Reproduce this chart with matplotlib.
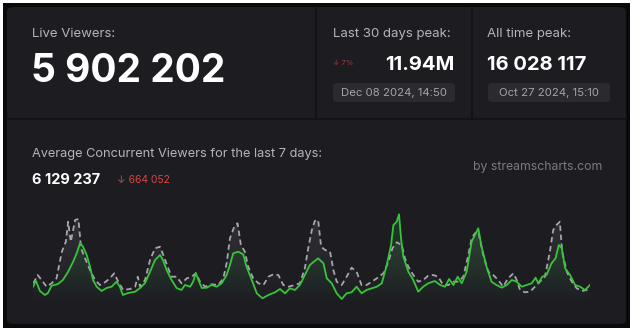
import numpy as np
import matplotlib
matplotlib.use("Agg")
import matplotlib.pyplot as plt
from matplotlib.patches import FancyBboxPatch, Rectangle, Polygon

# viewer stats shown in the header blocks
live_viewers = "5 902 202"
peak_30d = "11.94M"
peak_30d_change = "\u2193 7%"
peak_30d_date = "Dec 08 2024, 14:50"
peak_all = "16 028 117"
peak_all_date = "Oct 27 2024, 15:10"
avg_7d = "6 129 237"
avg_7d_change = "\u2193 664 052"

# last 7 days, hours from start, viewers in millions
cur_hours = [0.0, 0.9, 2.1, 3.6, 4.5, 5.6, 7.5, 9.0, 10.6, 12.1, 13.2, 14.2, 15.1, 16.2,
             17.2, 18.1, 19.2, 20.7, 22.2, 23.7, 25.2, 26.2, 27.1, 28.7, 30.8, 32.3, 33.8,
             35.3, 36.8, 38.3, 39.2, 40.3, 41.8, 43.3, 44.8, 45.8, 47.4, 48.3, 49.1, 49.9,
             50.9, 52.4, 53.9, 55.4, 56.9, 58.4, 59.4, 60.4, 61.9, 63.4, 64.4, 66.0, 67.5,
             69.2, 71.0, 73.0, 74.5, 76.0, 77.5, 79.0, 80.5, 82.0, 83.5, 84.5, 86.0, 87.6,
             88.6, 90.1, 91.6, 93.1, 94.6, 96.1, 97.6, 99.1, 100.6, 102.2, 103.7, 105.2,
             106.7, 108.0, 108.7, 109.7, 110.4, 111.0, 111.7, 113.2, 114.7, 116.2, 117.7,
             119.2, 121.2, 122.8, 124.3, 125.5, 126.8, 128.1, 129.3, 130.8, 132.3, 133.3,
             134.3, 135.3, 136.8, 138.3, 139.8, 141.4, 142.9, 144.4, 145.9, 147.4, 148.9,
             150.4, 151.6, 152.4, 153.6, 154.9, 156.4, 157.6, 158.6, 159.5, 160.5, 162.0,
             163.5, 165.0, 166.5, 168.0]
cur_viewers = [4.67, 5.24, 4.24, 3.84, 4.04, 4.77, 4.94, 5.34, 6.17, 7.17, 8.04, 9.04, 8.67, 7.84,
               6.67, 5.34, 4.67, 4.24, 4.54, 4.67, 5.17, 4.67, 3.84, 4.04, 4.17, 4.54, 5.04,
               6.17, 7.34, 7.84, 7.34, 6.34, 5.34, 4.54, 4.34, 4.84, 4.67, 5.17, 6.04, 5.34,
               4.54, 4.57, 4.84, 4.67, 5.01, 5.84, 6.84, 8.01, 8.17, 7.91, 6.67, 5.34, 4.01,
               3.51, 3.84, 4.11, 4.44, 4.01, 4.51, 4.34, 4.84, 5.84, 6.84, 7.11, 7.51, 7.01,
               5.51, 5.01, 4.01, 3.44, 4.01, 4.11, 4.67, 4.01, 4.34, 4.51, 4.67, 5.01,
               6.84, 8.84, 10.84, 11.17, 11.91, 9.51, 7.67, 6.17, 5.34, 4.17, 4.67,
               5.01, 5.24, 4.84, 4.67, 5.44, 4.84, 5.67, 5.01, 6.17, 9.17, 9.84,
               10.51, 8.67, 6.67, 5.17, 4.84, 4.57, 4.84, 5.34, 5.17, 4.67, 4.84,
               5.01, 5.57, 5.01, 5.67, 5.84, 7.01, 7.51, 8.84, 8.51, 6.51, 5.84,
               4.84, 4.67, 4.34, 4.84]

# previous 7 days for comparison
prev_hours = [0.1, 1.4, 2.6, 4.1, 5.6, 7.1, 8.7, 9.9, 10.6, 11.4, 12.7, 13.7, 14.5, 15.7, 17.2,
              18.7, 20.2, 21.7, 23.2, 24.5, 25.7, 27.2, 29.3, 30.8, 31.6, 32.3, 33.8, 35.3,
              36.8, 38.3, 39.3, 40.6, 41.8, 43.3, 44.8, 46.4, 47.9, 49.1, 50.4, 51.9, 53.9,
              55.9, 57.4, 58.4, 59.4, 60.7, 61.7, 62.7, 63.9, 64.9, 66.4, 68.0, 69.5, 71.0,
              72.5, 74.0, 75.5, 77.0, 79.0, 80.5, 82.0, 83.0, 84.1, 85.0, 86.0, 86.9, 88.1,
              89.6, 90.6, 91.6, 93.1, 94.6, 96.1, 97.6, 99.1, 100.6, 102.2, 103.7, 105.7,
              107.2, 108.4, 109.7, 111.2, 112.2, 113.2, 114.7, 116.2, 117.7, 119.2, 120.7,
              122.2, 123.7, 125.3, 126.8, 128.3, 129.8, 131.3, 132.3, 133.3, 134.3, 135.8,
              137.3, 138.8, 140.3, 141.8, 143.3, 144.9, 145.9, 146.9, 148.4, 149.9, 151.4,
              152.9, 154.4, 155.9, 156.9, 157.9, 158.9, 159.6, 161.0, 162.5, 164.0, 165.5,
              167.0, 168.0]
prev_viewers = [5.01, 5.84, 5.34, 4.67, 5.01, 5.51, 8.17, 9.17, 11.17, 9.17, 11.34, 11.44, 8.51,
                7.51, 6.34, 5.34, 4.84, 5.11, 5.51, 6.01, 5.17, 4.34, 4.44, 4.67, 5.67, 4.67,
                5.34, 7.34, 8.51, 8.67, 7.84, 6.67, 5.67, 5.67, 5.01, 5.51, 5.67, 6.01, 5.17,
                4.67, 4.91, 4.84, 5.51, 7.01, 9.51, 10.67, 11.01, 8.84, 8.17, 6.67, 5.51,
                5.01, 4.84, 5.67, 5.91, 5.84, 4.84, 4.67, 4.84, 5.01, 6.51, 8.51, 10.34,
                11.24, 11.34, 8.67, 8.34, 8.17, 6.34, 5.17, 4.84, 5.67, 6.57, 6.17, 4.84,
                4.84, 5.17, 5.51, 6.01, 7.17, 8.51, 9.11, 8.84, 7.51, 6.67, 5.84, 5.17,
                5.34, 5.77, 5.84, 5.67, 4.84, 4.84, 5.17, 5.17, 5.67, 7.84, 9.51, 10.01,
                10.17, 7.84, 6.17, 5.84, 5.34, 4.67, 5.51, 6.01, 5.34, 4.34, 4.11, 4.17,
                4.67, 5.17, 5.67, 8.17, 10.34, 10.84, 11.17, 8.17, 6.17, 5.17, 4.51, 4.24,
                4.34, 4.34]

W, H = 637, 333
BG = "#1c1c21"
DIV = "#121215"
LABEL = "#b4b4b9"
RED = "#d64545"
GREEN = "#38c43a"
FONT = ["Inter", "DejaVu Sans"]

fig = plt.figure(figsize=(W / 100, H / 100), dpi=100)
fig.patch.set_facecolor("white")


def fx(x):
    return x / W


def fy(y):
    return 1 - y / H


def text(x, y, s, **kw):
    kw.setdefault("family", FONT)
    fig.text(fx(x), fy(y), s, zorder=6, **kw)


# black frame and rounded card
fig.patches.append(Rectangle((fx(3), fy(328)), fx(627), 325 / H, transform=fig.transFigure,
                             facecolor="#0a0a0c", edgecolor="none", zorder=-2))
fig.patches.append(FancyBboxPatch((fx(7), fy(324)), fx(619), 317 / H,
                                  boxstyle="round,pad=0,rounding_size=0.012",
                                  transform=fig.transFigure, facecolor=BG, edgecolor="none",
                                  zorder=-1))

# dividers between header blocks
fig.lines.append(plt.Line2D([fx(7), fx(626)], [fy(119), fy(119)], transform=fig.transFigure,
                            color=DIV, lw=1.2, zorder=-0.5))
for xd in (316, 472):
    fig.lines.append(plt.Line2D([fx(xd), fx(xd)], [fy(7), fy(119)], transform=fig.transFigure,
                                color=DIV, lw=1.2, zorder=-0.5))

# header: live viewers
text(32, 34, "Live Viewers:", color=LABEL, fontsize=9.5, va="center")
text(31, 82, live_viewers, color="white", fontsize=28, fontweight="bold", va="baseline")

# header: 30 day peak
text(333, 34, "Last 30 days peak:", color=LABEL, fontsize=9.5, va="center")
text(333, 63, peak_30d_change, color="#a33c3c", fontsize=5.5, va="center")
text(455, 70, peak_30d, color="white", fontsize=14.5, fontweight="bold", va="baseline", ha="right")

# header: all time peak
text(487, 34, "All time peak:", color=LABEL, fontsize=9.5, va="center")
text(487, 70, peak_all, color="white", fontsize=14.5, fontweight="bold", va="baseline")

# date pills
for x0, x1, s in ((333, 455, peak_30d_date), (488, 610, peak_all_date)):
    fig.patches.append(FancyBboxPatch((fx(x0), fy(102)), fx(x1 - x0), 19 / H,
                                      boxstyle="round,pad=0,rounding_size=0.008",
                                      transform=fig.transFigure, facecolor="#2a2a30",
                                      edgecolor="none", zorder=0))
    text((x0 + x1) / 2, 92.5, s, color="#a2a2a8", fontsize=8.2, va="center", ha="center")

# average section
text(32, 154, "Average Concurrent Viewers for the last 7 days:", color=LABEL, fontsize=9.2,
     va="center")
text(32, 180, avg_7d, color="white", fontsize=10.5, fontweight="bold", va="center")
text(117, 180, avg_7d_change, color=RED, fontsize=7.5, va="center")
text(602, 167, "by streamscharts.com", color="#7a7a80", fontsize=8.8, va="center", ha="right")

# chart
ax = fig.add_axes([fx(33), fy(305), fx(557), 100 / H])
ax.set_zorder(5)
ax.set_facecolor("none")
ax.set_xlim(0, 168)
ax.set_ylim(2.84, 12.84)
ax.axis("off")

prev_h = np.array(prev_hours)
prev_v = np.array(prev_viewers)
cur_h = np.array(cur_hours)
cur_v = np.array(cur_viewers)


def gradient_fill(h, v, rgb, top_alpha):
    # vertical gradient under the line, clipped to the area below it
    grad = np.zeros((100, 1, 4))
    grad[:, 0, :3] = rgb
    grad[:, 0, 3] = np.linspace(top_alpha, 0.0, 100)
    ymin, ymax = ax.get_ylim()
    im = ax.imshow(grad, aspect="auto", extent=[0, 168, ymin, v.max()], origin="upper",
                   zorder=1)
    poly = Polygon(np.column_stack([np.r_[h[0], h, h[-1]], np.r_[ymin, v, ymin]]),
                   closed=True, facecolor="none", edgecolor="none")
    ax.add_patch(poly)
    im.set_clip_path(poly)


gradient_fill(prev_h, prev_v, (0.55, 0.55, 0.6), 0.18)
gradient_fill(cur_h, cur_v, (0.2, 0.75, 0.25), 0.2)
ax.set_xlim(0, 168)
ax.set_ylim(2.84, 12.84)

ax.plot(prev_h, prev_v, color="#a5a5ab", lw=1.3, ls=(0, (3, 2)), zorder=2)
ax.plot(cur_h, cur_v, color=GREEN, lw=1.3, zorder=3)

fig.savefig("out.png", dpi=100, facecolor=fig.get_facecolor())
